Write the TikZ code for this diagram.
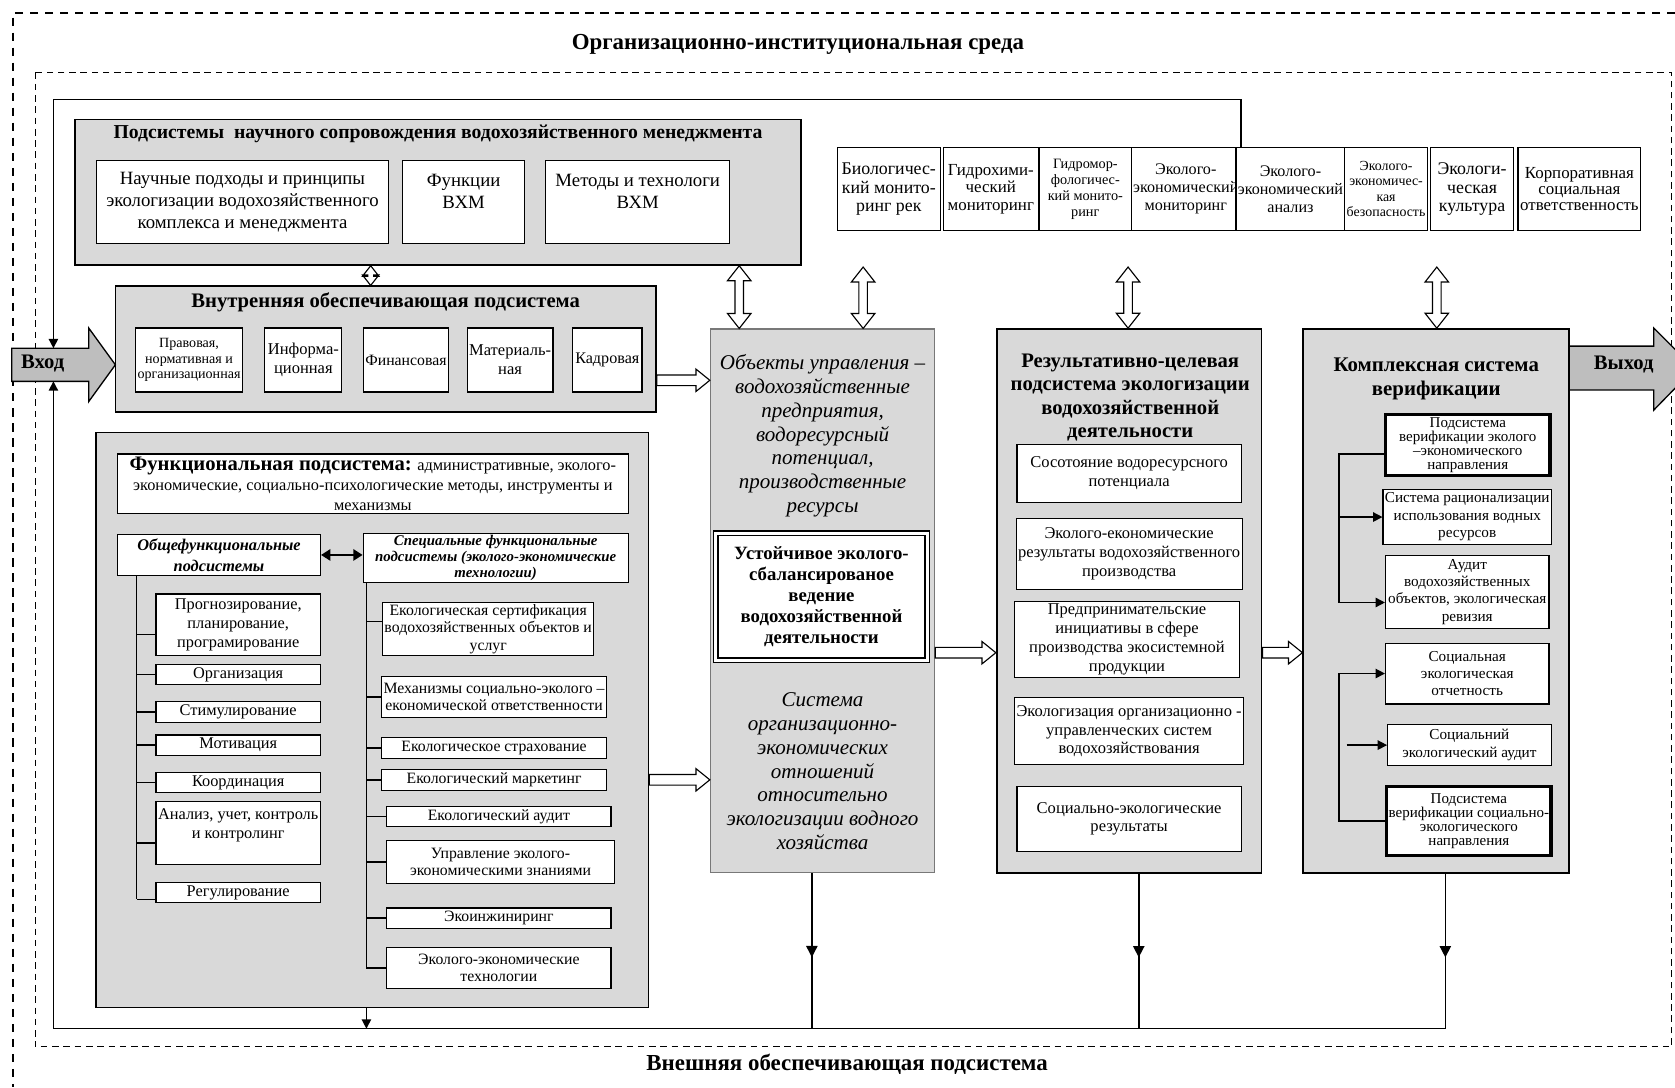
\documentclass[tikz,border=0pt]{standalone}
\usepackage{fontspec}
\setmainfont{Liberation Serif}
\usetikzlibrary{arrows.meta,calc,decorations.markings}

\definecolor{panelgray}{RGB}{217,217,217}
\definecolor{portgray}{RGB}{190,190,190}
\definecolor{edgegray}{RGB}{120,120,120}

\newcommand{\fsz}[2]{\fontsize{#1}{#2}\selectfont}

% open block arrow, left to right
\newcommand{\hollowright}[2]{%
  \draw[fill=white,line width=0.6pt] let \p1=(#1),\p2=(#2) in
    (\x1,\y1+0.1cm) -- (\x2-0.26cm,\y1+0.1cm) -- (\x2-0.26cm,\y1+0.21cm) -- (\x2,\y1)
    -- (\x2-0.26cm,\y1-0.21cm) -- (\x2-0.26cm,\y1-0.1cm) -- (\x1,\y1-0.1cm) -- cycle;}
% open block arrow with two heads, top to bottom
\newcommand{\hollowpair}[3][1]{%
  \draw[fill=white,line width=0.6pt] let \p1=(#2),\p2=(#3) in
    (\x1,\y1) -- (\x1+#1*0.22cm,\y1-#1*0.28cm) -- (\x1+#1*0.08cm,\y1-#1*0.28cm)
    -- (\x1+#1*0.08cm,\y2+#1*0.28cm) -- (\x1+#1*0.22cm,\y2+#1*0.28cm) -- (\x1,\y2)
    -- (\x1-#1*0.22cm,\y2+#1*0.28cm) -- (\x1-#1*0.08cm,\y2+#1*0.28cm)
    -- (\x1-#1*0.08cm,\y1-#1*0.28cm) -- (\x1-#1*0.22cm,\y1-#1*0.28cm) -- cycle;}

\begin{document}
\begin{tikzpicture}[x=1cm,y=-1cm,
    panel/.style={draw,line width=0.9pt,fill=panelgray},
    cell/.style={draw,fill=white,line width=0.6pt,align=center,inner sep=1pt},
    boldcell/.style={cell,line width=1.8pt},
    headtxt/.style={font=\bfseries\fsz{11}{12.5},align=center},
    lcell/.style={cell,font=\fsz{8.7}{10},minimum width=3.08cm},
    rcell/.style={cell,font=\fsz{8.4}{9.2}},
    rescell/.style={cell,font=\fsz{8.8}{10},minimum width=4.2cm},
    vcell/.style={cell,font=\fsz{8.1}{9.3}},
    mon/.style={cell,minimum height=1.56cm},
    link/.style={line width=0.8pt},
    arr/.style={-{Triangle[length=5pt,width=5pt]}},
    midarr/.style={postaction={decorate},decoration={markings,
      mark=at position #1 with {\arrow{Triangle[length=6pt,width=6pt]}}}},
    port/.style={draw,line width=0.7pt,fill=portgray}]
  \useasboundingbox (0,0) rectangle (31.36,20.36);
  \clip (0,0) rectangle (31.36,20.36);

  % environments
  \draw[line width=1.1pt,dash pattern=on 4.5pt off 3.5pt] (31.36,0.24) -- (0.24,0.24) -- (0.24,20.36);
  \draw[line width=0.6pt,dash pattern=on 3.5pt off 2.5pt] (0.66,1.36) rectangle (31.3,19.6);
  \node[headtxt,font=\bfseries\fsz{12.2}{14}] (envtop) at (14.94,0.84) {Организационно-институциональная среда};
  \node[headtxt,font=\bfseries\fsz{12.2}{14}] (envbot) at (15.86,19.92) {Внешняя обеспечивающая подсистема};

  % scientific support
  \node[panel,minimum width=13.6cm,minimum height=2.72cm] (nauch) at (8.2,3.6) {};
  \node[headtxt,font=\bfseries\fsz{10.5}{12}] (nauchT) at (8.2,2.5) {Подсистемы\ \ научного сопровождения водохозяйственного менеджмента};
  \node[cell,font=\fsz{10}{11.7},minimum width=5.48cm,minimum height=1.56cm] (pA) at (4.54,3.78)
    {Научные подходы и принципы\\экологизации водохозяйственного\\комплекса и менеджмента};
  \node[cell,font=\fsz{10}{11.7},minimum width=2.28cm,minimum height=1.56cm] (pB) at (8.68,3.78)
    {Функции\\ВХМ\\~};
  \node[cell,font=\fsz{10}{11.7},minimum width=3.44cm,minimum height=1.56cm] (pC) at (11.94,3.78)
    {Методы и технологи\\ВХМ\\~};

  % internal support
  \node[panel,minimum width=10.12cm,minimum height=2.36cm] (vnutr) at (7.22,6.54) {};
  \node[headtxt] (vnutrT) at (7.22,5.66) {Внутренняя обеспечивающая подсистема};
  \node[cell,font=\fsz{7.5}{8.3},minimum width=1.96cm,minimum height=1.2cm] (i1) at (3.54,6.74)
    {Правовая,\\нормативная и\\организационная};
  \node[cell,font=\fsz{8.8}{10},minimum width=1.44cm,minimum height=1.2cm] (i2) at (5.68,6.74) {Информа-\\ционная};
  \node[cell,font=\fsz{8.4}{10},minimum width=1.52cm,minimum height=1.2cm] (i3) at (7.6,6.74) {Финансовая};
  \node[cell,font=\fsz{8.8}{10},minimum width=1.58cm,minimum height=1.2cm] (i4) at (9.55,6.74) {Материаль-\\ная};
  \node[cell,font=\fsz{8.6}{10},minimum width=1.3cm,minimum height=1.2cm] (i5) at (11.37,6.74) {Кадровая};

  % functional subsystem
  \node[panel,minimum width=10.34cm,minimum height=10.76cm] (func) at (6.97,13.48) {};
  \node[cell,font=\fsz{8.7}{10.5},minimum width=9.56cm,minimum height=1.12cm] (hdr) at (6.98,9.06)
    {{\bfseries\fsz{11}{10.5}Функциональная подсистема:} административные, эколого-\\экономические, социально-психологические методы, инструменты и\\механизмы};
  \node[cell,font=\bfseries\itshape\fsz{8.7}{11},minimum width=3.8cm,minimum height=0.78cm] (gen) at (4.1,10.39)
    {Общефункциональные\\подсистемы};
  \node[cell,font=\bfseries\itshape\fsz{7.9}{8.5},minimum width=4.96cm,minimum height=0.88cm] (spec) at (9.28,10.44)
    {Специальные функциональные\\подсистемы (эколого-экономические\\технологии)};
  \draw[line width=1.2pt,{Triangle[length=5pt,width=6pt]}-{Triangle[length=5pt,width=6pt]}] (gen.east) -- (spec.west |- gen.east);

  \node[lcell,minimum height=1.16cm] (p1) at (4.46,11.7) {Прогнозирование,\\планирование,\\програмирование};
  \node[lcell,minimum height=0.38cm] (p2) at (4.46,12.63) {Организация};
  \node[lcell,minimum height=0.38cm] (p3) at (4.46,13.33) {Стимулирование};
  \node[lcell,minimum height=0.38cm] (p4) at (4.46,13.95) {Мотивация};
  \node[lcell,minimum height=0.38cm] (p5) at (4.46,14.65) {Координация};
  \node[lcell,minimum height=1.18cm] (p6) at (4.46,15.59) {Анализ, учет, контроль\\и контролинг\\~};
  \node[lcell,minimum height=0.38cm] (p7) at (4.46,16.71) {Регулирование};

  \node[rcell,minimum width=3.8cm,minimum height=1.0cm] (s1) at (9.14,11.78) {Екологическая сертификация\\водохозяйственных объектов и\\услуг};
  \node[rcell,minimum width=4.22cm,minimum height=0.78cm] (s2) at (9.25,13.05) {Механизмы социально-эколого –\\економической ответственности};
  \node[rcell,minimum width=4.22cm,minimum height=0.4cm] (s3) at (9.25,14.0) {Екологическое страхование};
  \node[rcell,minimum width=4.22cm,minimum height=0.4cm] (s4) at (9.25,14.6) {Екологический маркетинг};
  \node[rcell,minimum width=4.2cm,minimum height=0.38cm] (s5) at (9.34,15.29) {Екологический аудит};
  \node[rcell,minimum width=4.26cm,minimum height=0.8cm] (s6) at (9.37,16.14) {Управление эколого-\\экономическими знаниями};
  \node[rcell,minimum width=4.2cm,minimum height=0.38cm] (s7) at (9.34,17.19) {Экоинжиниринг};
  \node[rcell,minimum width=4.2cm,minimum height=0.76cm] (s8) at (9.34,18.12) {Эколого-экономические\\технологии};

  \coordinate (gtrunk) at ([xshift=-1.54cm]gen.south);
  \draw[link] (gtrunk) -- ($(p7.west -| gtrunk)+(0,0.13)$);
  \foreach \b/\s in {p1/0.18,p2/0,p3/0,p4/0,p5/0,p6/0.19,p7/0.13}
    \draw[link] ($(\b.west)+(0,\s)$) -- ($(\b.west -| gtrunk)+(0,\s)$);
  \coordinate (strunk) at ([xshift=-2.42cm]spec.south);
  \draw[link] (strunk) -- (s8.west -| strunk);
  \foreach \b/\s in {s1/-0.14,s2/0,s3/0,s4/0,s5/0,s6/0,s7/0,s8/0}
    \draw[link] ($(\b.west)+(0,\s)$) -- ($(\b.west -| strunk)+(0,\s)$);

  % objects of management
  \node[panel,draw=edgegray,line width=0.6pt,minimum width=4.2cm,minimum height=10.18cm] (obj) at (15.4,11.25) {};
  \node[font=\itshape\fsz{11.2}{12.7},align=center] (objT) at (15.4,8.16)
    {Объекты управления –\\водохозяйственные\\предприятия,\\водоресурсный\\потенциал,\\производственные\\ресурсы};
  \node[cell,double,double distance=1.6pt,line width=0.7pt,font=\bfseries\fsz{10}{11.2},minimum width=3.96cm,minimum height=2.38cm] (ust) at (15.38,11.17)
    {Устойчивое эколого-\\сбалансированое\\ведение\\водохозяйственной\\деятельности};
  \node[font=\itshape\fsz{11.2}{12.7},align=center] (objB) at (15.4,14.44)
    {Система\\организационно-\\экономических\\отношений\\относительно\\экологизации водного\\хозяйства};

  % results
  \node[panel,minimum width=4.96cm,minimum height=10.18cm] (res) at (21.14,11.25) {};
  \node[headtxt] (resT) at (21.16,7.44) {Результативно-целевая\\подсистема экологизации\\водохозяйственной\\деятельности};
  \node[rescell,minimum height=1.08cm] (r1) at (21.14,8.86) {Сосотояние водоресурсного\\потенциала};
  \node[rescell,minimum height=1.34cm] (r2) at (21.14,10.37) {Эколого-економические\\результаты водохозяйственного\\производства};
  \node[rescell,minimum height=1.42cm] (r3) at (21.1,11.97) {Предпринимательские\\инициативы в сфере\\производства экосистемной\\продукции};
  \node[rescell,minimum height=1.26cm] (r4) at (21.14,13.69) {Экологизация организационно -\\управленческих систем\\водохозяйствования};
  \node[rescell,minimum height=1.22cm] (r5) at (21.14,15.33) {Социально-экологические\\результаты};

  % verification
  \node[panel,minimum width=4.98cm,minimum height=10.18cm] (ver) at (26.89,11.25) {};
  \node[headtxt,font=\bfseries\fsz{11.1}{13}] (verT) at (26.89,7.09) {Комплексная система\\верификации};
  \node[boldcell,font=\fsz{8}{7.4},minimum width=3.08cm,minimum height=1.14cm] (v1) at (27.48,8.33)
    {Подсистема\\верификации эколого\\–экономического\\направления};
  \node[vcell,minimum width=3.06cm,minimum height=1.04cm] (v2) at (27.47,9.68) {Система рационализации\\использования водных\\ресурсов};
  \node[vcell,minimum width=3.06cm,minimum height=1.36cm] (v3) at (27.47,11.08) {Аудит\\водохозяйственных\\объектов, экологическая\\ревизия};
  \node[vcell,minimum width=3.06cm,minimum height=1.14cm] (v4) at (27.47,12.61) {Социальная\\экологическая\\отчетность};
  \node[vcell,minimum width=3.06cm,minimum height=0.78cm] (v5) at (27.51,13.95) {Социальний\\экологический аудит};
  \node[boldcell,font=\fsz{8}{7.4},minimum width=3.08cm,minimum height=1.3cm] (v6) at (27.5,15.37)
    {Подсистема\\верификации социально-\\экологического\\направления};
  \draw[link,arr] ([yshift=-0.17cm]v1.west) -- ++(-0.84,0) coordinate (kb) |- ([yshift=-0.2cm]v3.west);
  \draw[link,arr] (kb |- v2.west) -- (v2.west);
  \draw[link,arr] (v6.west) -- ++(-0.86,0) |- (v4.west);
  \draw[link,arr] ([xshift=-0.76cm]v5.west) -- (v5.west);

  % monitoring row
  \node[mon,font=\fsz{9.5}{10},minimum width=1.92cm] (m1) at (16.64,3.54) {Биологичес-\\кий монито-\\ринг рек};
  \node[mon,font=\fsz{9}{9.4},minimum width=1.78cm] (m2) at (18.55,3.54) {Гидрохими-\\ческий\\мониторинг};
  \node[mon,font=\fsz{7.6}{8.6},minimum width=1.72cm] (m3) at (20.32,3.54) {Гидромор-\\фологичес-\\кий монито-\\ринг};
  \node[mon,font=\fsz{8.6}{9.6},minimum width=1.92cm] (m4) at (22.2,3.54) {Эколого-\\экономический\\мониторинг};
  \node[mon,font=\fsz{8.6}{9.6},minimum width=1.92cm] (m5) at (24.16,3.54) {Эколого-\\экономический\\анализ};
  \node[mon,font=\fsz{7.4}{8.2},minimum width=1.54cm] (m6) at (25.95,3.54) {Эколого-\\экономичес-\\кая\\безопасность};
  \node[mon,font=\fsz{9.5}{10},minimum width=1.56cm] (m7) at (27.56,3.54) {Экологи-\\ческая\\культура};
  \node[mon,font=\fsz{9}{8.4},minimum width=2.3cm] (m8) at (29.57,3.54) {Корпоративная\\социальная\\ответственность};

  % input / output
  \draw[port] (0.22,6.52) coordinate (vinnw) -- (1.66,6.52) -- (1.66,6.14) -- (2.16,6.83)
    -- (1.66,7.52) -- (1.66,7.14) -- (0.22,7.14) coordinate (vinsw) -- cycle;
  \node[font=\bfseries\fsz{11}{12}] (vin) at (0.8,6.8) {Вход};
  \draw[port] (29.38,6.48) -- (30.96,6.48) -- (30.96,6.14) -- (31.72,6.9)
    -- (30.96,7.68) -- (30.96,7.3) -- (29.38,7.3) -- cycle;
  \node[font=\bfseries\fsz{11}{12}] (vout) at (30.4,6.82) {Выход};

  % feedback loop
  \coordinate (ftl) at (1.0,1.86);
  \coordinate (fbl) at (1.0,19.26);
  \coordinate (fbr) at (27.06,19.26);
  \draw[link] (m4.north east) |- (ftl);
  \draw[link,arr] (ftl) -- (ftl |- vinnw);
  \draw[link] (fbl) -- (fbr);
  \draw[link,arr] (fbl) -- (fbl |- vinsw);
  \coordinate (fd) at ([xshift=-0.11cm]func.south);
  \draw[link,arr] (fd) -- (fd |- fbl);
  \coordinate (od) at ([xshift=-0.2cm]obj.south);
  \draw[link,midarr=0.54] (od) -- (od |- fbl);
  \coordinate (rd) at ([xshift=0.18cm]res.south);
  \draw[link,midarr=0.54] (rd) -- (rd |- fbl);
  \coordinate (vd) at ([xshift=0.17cm]ver.south);
  \draw[link,midarr=0.54] (vd) -- (vd |- fbl);

  % open arrows
  \hollowpair[0.7]{[xshift=-1.26cm]nauch.south}{vnutr.north}
  \hollowpair{[xshift=5.64cm]nauch.south}{obj.north}
  \coordinate (ma) at (16.16,5.0);
  \coordinate (mb) at (21.12,5.0);
  \coordinate (mc) at (26.9,5.0);
  \hollowpair{ma}{obj.north}
  \hollowpair{mb}{res.north}
  \hollowpair{mc}{ver.north}
  \hollowright{[yshift=-0.58cm]vnutr.east}{obj.west}
  \hollowright{[yshift=-1.12cm]func.east}{obj.west}
  \hollowright{[yshift=-0.97cm]obj.east}{res.west}
  \hollowright{[yshift=-0.97cm]res.east}{ver.west}
\end{tikzpicture}
\end{document}
